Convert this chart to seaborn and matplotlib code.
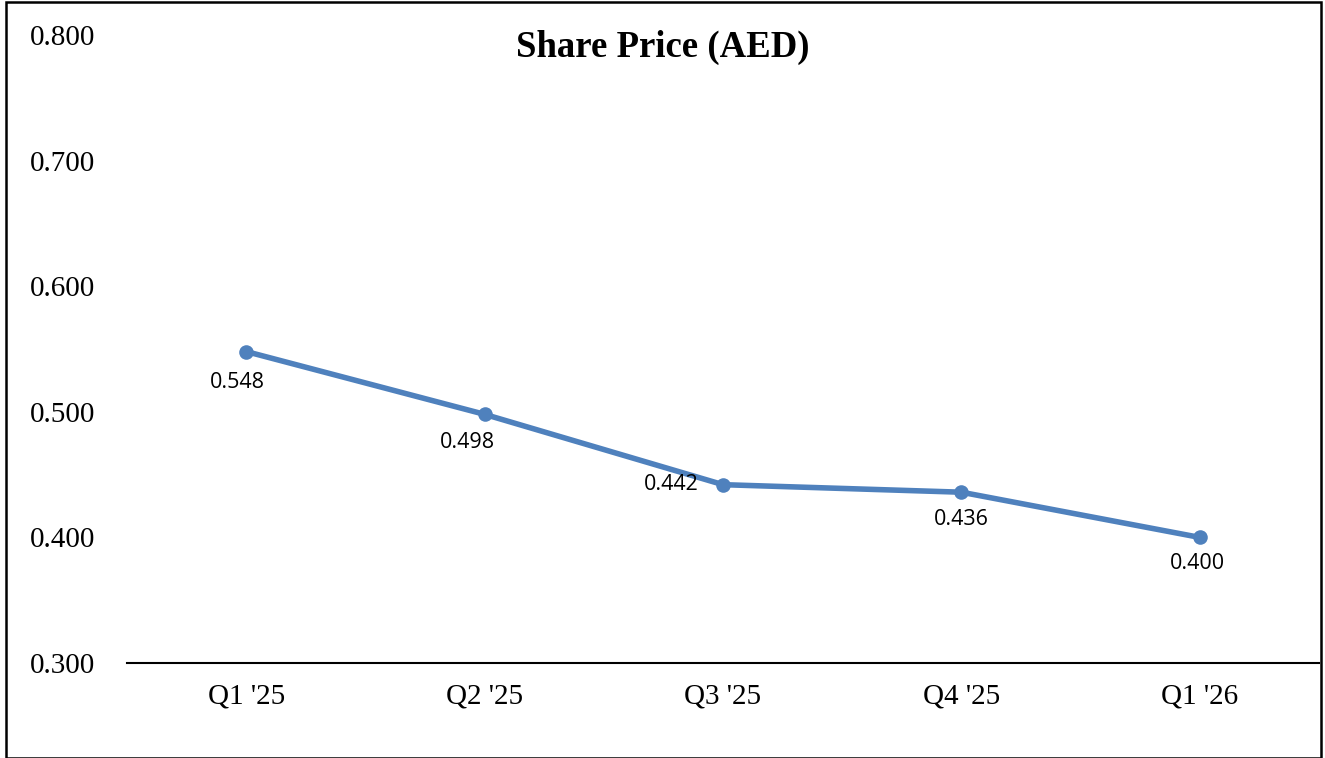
import matplotlib
matplotlib.use("Agg")
import matplotlib.pyplot as plt
from matplotlib.patches import Rectangle
import seaborn as sns
import pandas as pd

# data
quarters = ["Q1 '25", "Q2 '25", "Q3 '25", "Q4 '25", "Q1 '26"]
share_price = [0.548, 0.498, 0.442, 0.436, 0.400]
y_ticks = [0.300, 0.400, 0.500, 0.600, 0.700, 0.800]

# label offsets in points (dx, dy), Excel placed them below except Q3
label_offsets = [(-6, -22), (-12, -20), (-37, 0), (0, -20), (-2, -19)]

df = pd.DataFrame({"quarter": quarters, "price": share_price})
df["pos"] = range(len(df))

sns.set_theme(style="white")
plt.rcParams["font.family"] = ["Liberation Serif", "DejaVu Serif"]
plt.rcParams["text.color"] = "black"
plt.rcParams["xtick.color"] = "black"
plt.rcParams["ytick.color"] = "black"

fig = plt.figure(figsize=(13.25, 7.58), dpi=100)
ax = fig.add_axes([0.0958, 0.1253, 0.8997, 0.8285])

blue = "#4F81BD"
sns.lineplot(data=df, x="pos", y="price", ax=ax, color=blue, linewidth=4,
             marker="o", markersize=10.5, markeredgewidth=0, sort=False)

for i, v in enumerate(share_price):
    dx, dy = label_offsets[i]
    ax.annotate(f"{v:.3f}", xy=(i, v), xytext=(dx, dy), textcoords="offset points",
                ha="center", va="center", fontsize=15.5, color="black",
                family=["Open Sans", "DejaVu Sans"])

ax.set_xlim(-0.5, len(quarters) - 0.5)
ax.set_ylim(0.3, 0.8)
ax.set_xticks(range(len(quarters)))
ax.set_xticklabels(quarters, fontsize=21)
ax.set_yticks(y_ticks)
ax.set_yticklabels([f"{t:.3f}" for t in y_ticks], fontsize=21)
ax.tick_params(axis="x", length=0, pad=15, colors="black")
ax.tick_params(axis="y", length=0, pad=23, colors="black")
ax.set_xlabel("")
ax.set_ylabel("")
for s in ["top", "right", "left"]:
    ax.spines[s].set_visible(False)
ax.spines["bottom"].set_color("black")
ax.spines["bottom"].set_linewidth(1.5)
ax.grid(False)

fig.text(0.5005, 0.937, "Share Price (AED)", ha="center", va="center",
         fontsize=26.5, fontweight="bold", color="black")

# outer frame round the chart
fig.patches.append(Rectangle((0.0045, 0.0), 0.9925, 0.997, transform=fig.transFigure,
                             fill=False, edgecolor="black", linewidth=1.8))

fig.savefig("out.png", dpi=100)
